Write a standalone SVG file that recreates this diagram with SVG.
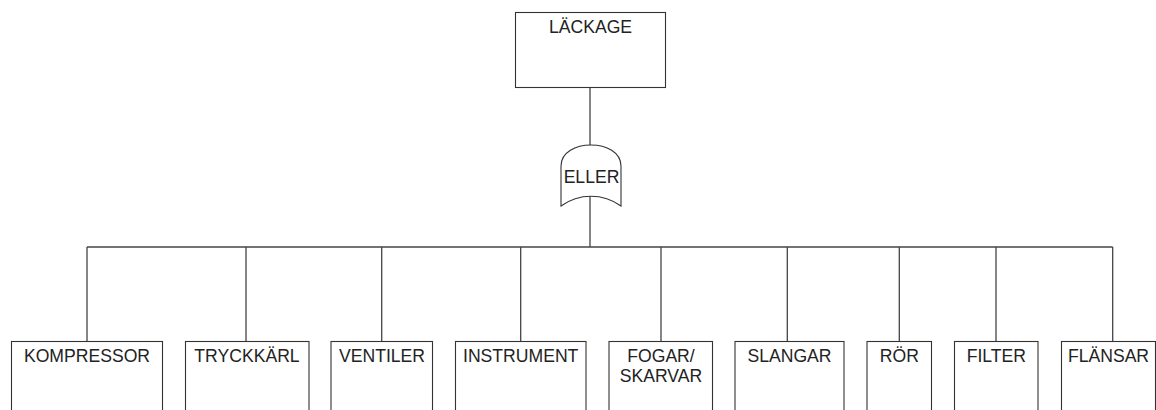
<svg xmlns="http://www.w3.org/2000/svg" width="1156" height="410" viewBox="0 0 1156 410">
<style>
.box{fill:#fff;stroke:#333;stroke-width:1.1}
.ln{fill:none;stroke:#444;stroke-width:1.3}
text{font-family:"Liberation Sans",Arial,sans-serif;font-size:17.6px;fill:#222;text-anchor:middle}
</style>
<rect width="1156" height="410" fill="#fff"/>
<g id="connectors">
<line class="ln" x1="590" y1="87.5" x2="590" y2="146"/>
<line class="ln" x1="590" y1="195" x2="590" y2="247"/>
<line class="ln" x1="87" y1="247" x2="1112.7" y2="247"/>
<line class="ln" x1="87" y1="247" x2="87" y2="341.5"/>
<line class="ln" x1="246" y1="247" x2="246" y2="341.5"/>
<line class="ln" x1="381.7" y1="247" x2="381.7" y2="341.5"/>
<line class="ln" x1="520.7" y1="247" x2="520.7" y2="341.5"/>
<line class="ln" x1="661" y1="247" x2="661" y2="341.5"/>
<line class="ln" x1="787.3" y1="247" x2="787.3" y2="341.5"/>
<line class="ln" x1="899.3" y1="247" x2="899.3" y2="341.5"/>
<line class="ln" x1="996" y1="247" x2="996" y2="341.5"/>
<line class="ln" x1="1112.7" y1="247" x2="1112.7" y2="341.5"/>
</g>
<g id="lackage">
<rect class="box" x="515.5" y="12.5" width="150" height="75"/>
<text x="590.5" y="33">LÄCKAGE</text>
</g>
<g id="eller">
<path class="box" d="M561,206 L561,166 C561,138 621,138 621,166 L621,206 C603,193 579,193 561,206 Z"/>
<text x="591.5" y="183">ELLER</text>
</g>
<g id="kompressor">
<rect class="box" x="11.5" y="341.5" width="151" height="80"/>
<text x="87" y="362">KOMPRESSOR</text>
</g>
<g id="tryckkarl">
<rect class="box" x="185.5" y="341.5" width="123.5" height="80"/>
<text x="247" y="362">TRYCKKÄRL</text>
</g>
<g id="ventiler">
<rect class="box" x="331" y="341.5" width="101.5" height="80"/>
<text x="382" y="362">VENTILER</text>
</g>
<g id="instrument">
<rect class="box" x="455.5" y="341.5" width="130.5" height="80"/>
<text x="520.7" y="362">INSTRUMENT</text>
</g>
<g id="fogar">
<rect class="box" x="609" y="341.5" width="103.5" height="80"/>
<text x="661" y="362">FOGAR/</text>
<text x="661" y="381.5">SKARVAR</text>
</g>
<g id="slangar">
<rect class="box" x="735" y="341.5" width="109" height="80"/>
<text x="789.5" y="362">SLANGAR</text>
</g>
<g id="ror">
<rect class="box" x="867" y="341.5" width="64.5" height="80"/>
<text x="899.3" y="362">RÖR</text>
</g>
<g id="filter">
<rect class="box" x="954.5" y="341.5" width="83.5" height="80"/>
<text x="996.3" y="362">FILTER</text>
</g>
<g id="flansar">
<rect class="box" x="1061.5" y="341.5" width="94" height="80"/>
<text x="1108.5" y="362">FLÄNSAR</text>
</g>
</svg>
